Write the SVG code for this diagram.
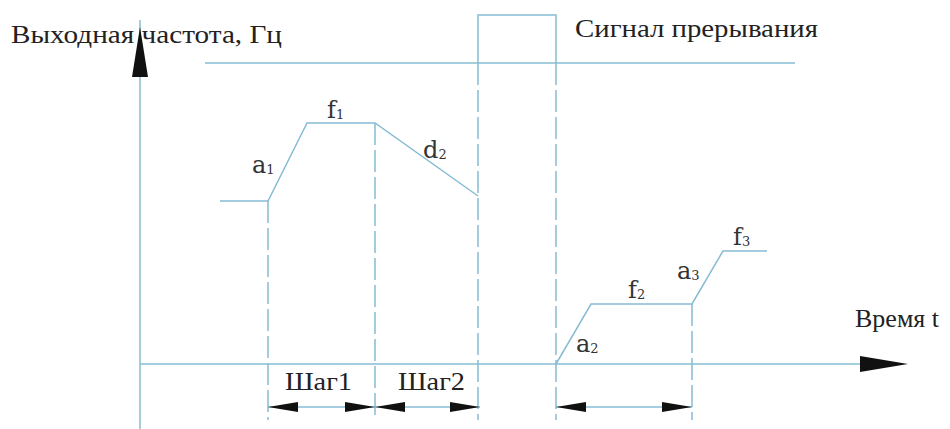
<svg xmlns="http://www.w3.org/2000/svg" width="950" height="429" viewBox="0 0 950 429">
<style>
.ln{stroke:#86bcd3;stroke-width:1.5;fill:none}
.dash{stroke:#86bcd3;stroke-width:1.5;fill:none;stroke-dasharray:22 5}
.ah{fill:#111}
</style>
<rect width="950" height="429" fill="#fff"/>
<g id="axes">
<line class="ln" x1="140" y1="20" x2="140" y2="429"/>
<polygon class="ah" points="132,77 148,77 140,27"/>
<line class="ln" x1="140" y1="364" x2="870" y2="364"/>
<polygon class="ah" points="860,356 860,372 908,364"/>
</g>
<g id="connectors">
<line class="ln" x1="205" y1="63" x2="795" y2="63"/>
<polyline class="ln" points="478,63 478,15 556,15 556,63"/>
<line class="dash" x1="478" y1="63" x2="478" y2="420"/>
<line class="dash" x1="556" y1="63" x2="556" y2="420"/>
<line class="dash" x1="268" y1="201" x2="268" y2="420"/>
<line class="dash" x1="375" y1="123" x2="375" y2="420"/>
<line class="dash" x1="692" y1="304" x2="692" y2="420"/>
<polyline class="ln" points="220,201 268,201 307,123 375,123 478,196"/>
<polyline class="ln" points="556,364 591,304 692,304 723,251 767,251"/>
<line class="ln" x1="268" y1="407" x2="480" y2="407"/>
<line class="ln" x1="556" y1="407" x2="692" y2="407"/>
<polygon class="ah" points="268,407 298,402 298,412"/>
<polygon class="ah" points="375,407 345,402 345,412"/>
<polygon class="ah" points="375,407 405,402 405,412"/>
<polygon class="ah" points="480,407 450,402 450,412"/>
<polygon class="ah" points="556,407 586,402 586,412"/>
<polygon class="ah" points="692,407 662,402 662,412"/>
</g>
<g id="labels">
<text x="11" y="43" font-family="Liberation Serif" font-size="26" fill="#222" textLength="271" lengthAdjust="spacingAndGlyphs">Выходная частота, Гц</text>
<text x="575" y="37" font-family="Liberation Serif" font-size="26" fill="#222" textLength="243" lengthAdjust="spacingAndGlyphs">Сигнал прерывания</text>
<text x="855" y="327" font-family="Liberation Serif" font-size="26" fill="#222">Время t</text>
<text x="285" y="390" font-family="Liberation Serif" font-size="26" fill="#222" textLength="67" lengthAdjust="spacingAndGlyphs">Шаг1</text>
<text x="398" y="390" font-family="Liberation Serif" font-size="26" fill="#222" textLength="67" lengthAdjust="spacingAndGlyphs">Шаг2</text>
</g>
<g id="curve-labels">
<text x="252" y="173" font-family="DejaVu Serif" font-size="24" fill="#333">a<tspan font-size="13" dy="1">1</tspan></text>
<text x="327" y="118" font-family="DejaVu Serif" font-size="24" fill="#333">f<tspan font-size="13" dy="1">1</tspan></text>
<text x="423" y="158" font-family="DejaVu Serif" font-size="24" fill="#333">d<tspan font-size="13" dy="1">2</tspan></text>
<text x="576" y="352" font-family="DejaVu Serif" font-size="24" fill="#333">a<tspan font-size="13" dy="1">2</tspan></text>
<text x="628" y="298" font-family="DejaVu Serif" font-size="24" fill="#333">f<tspan font-size="13" dy="1">2</tspan></text>
<text x="677" y="279" font-family="DejaVu Serif" font-size="24" fill="#333">a<tspan font-size="13" dy="1">3</tspan></text>
<text x="733" y="245" font-family="DejaVu Serif" font-size="24" fill="#333">f<tspan font-size="13" dy="1">3</tspan></text>
</g>
</svg>
